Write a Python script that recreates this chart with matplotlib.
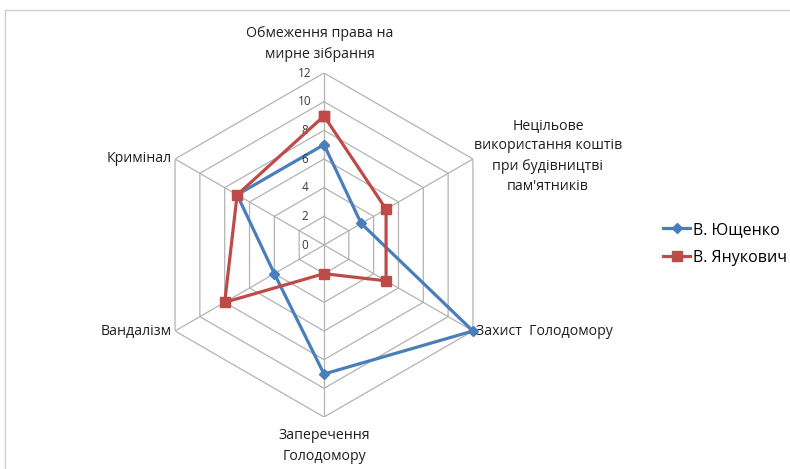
import numpy as np
import matplotlib
matplotlib.use("Agg")
import matplotlib.pyplot as plt
from matplotlib.lines import Line2D
from matplotlib.transforms import offset_copy

plt.rcParams['font.family'] = ['Open Sans', 'DejaVu Sans']

# data
categories = ["Обмеження права на\nмирне зібрання",
              "Нецільове\nвикористання коштів\nпри будівництві\nпам'ятників",
              "Захист  Голодомору",
              "Заперечення\nГолодомору",
              "Вандалізм",
              "Кримінал"]
yushchenko = [7, 3, 12, 9, 4, 7]
yanukovych = [9, 5, 5, 2, 8, 7]
series_names = ["В. Ющенко", "В. Янукович"]
r_ticks = [0, 2, 4, 6, 8, 10, 12]

W, H = 790, 469
fig = plt.figure(figsize=(W / 100, H / 100), dpi=100)

# centre of the radar (pixels) and radius for value 12
cx, cy, rad = 324, 245, 172
ax = fig.add_axes([(cx - rad) / W, (H - cy - rad) / H, 2 * rad / W, 2 * rad / H],
                  projection='polar')
ax.set_theta_zero_location('N')
ax.set_theta_direction(-1)
ax.set_ylim(0, 12)
ax.grid(False)
ax.spines['polar'].set_visible(False)
ax.set_xticks([])
ax.set_yticks([])
ax.patch.set_alpha(0)

n = len(categories)
theta = np.linspace(0, 2 * np.pi, n, endpoint=False)
theta_c = np.append(theta, theta[0])

grid_col = '#b3b3b3'
for v in r_ticks[1:]:
    ax.plot(theta_c, [v] * (n + 1), color=grid_col, lw=0.9, zorder=1)
for t in theta:
    ax.plot([t, t], [0, 12], color=grid_col, lw=0.9, zorder=1)

blue = '#4a7ebb'
red = '#be4b48'
ax.plot(theta_c, yushchenko + yushchenko[:1], color=blue, lw=2.3, marker='D',
        ms=5.5, zorder=3, label=series_names[0], clip_on=False)
ax.plot(theta_c, yanukovych + yanukovych[:1], color=red, lw=2.3, marker='s',
        ms=7, zorder=4, label=series_names[1], clip_on=False)

# radial tick labels, left of the top spoke
tr = offset_copy(ax.transData, fig=fig, x=-19, y=0, units='dots')
for v in r_ticks:
    ax.text(0, v, str(v), transform=tr, ha='center', va='center',
            fontsize=8.5, color='#3a3a3a')

# category labels (pixel anchor, alignment)
label_pos = [(320, 44, 'center'), (548, 156, 'center'), (476, 331, 'left'),
             (324, 446, 'center'), (172, 331, 'right'), (172, 158, 'right')]
for txt, (px, py, ha) in zip(categories, label_pos):
    fig.text(px / W, 1 - py / H, txt, ha=ha, va='center', fontsize=10.2,
             color='#1f1f1f', linespacing=1.5, multialignment='center')

leg = fig.legend(loc='center left', bbox_to_anchor=(655 / W, 1 - 244 / H),
                 frameon=False, fontsize=11.5, handlelength=1.7,
                 handletextpad=0.2, labelspacing=0.75, borderpad=0)

# light frame of the chart area
fig.add_artist(Line2D([5 / W, 1], [1 - 10 / H, 1 - 10 / H], color='#d0d0d0', lw=1))
fig.add_artist(Line2D([5 / W, 5 / W], [0, 1 - 10 / H], color='#d0d0d0', lw=1))

fig.savefig('out.png', dpi=100)
